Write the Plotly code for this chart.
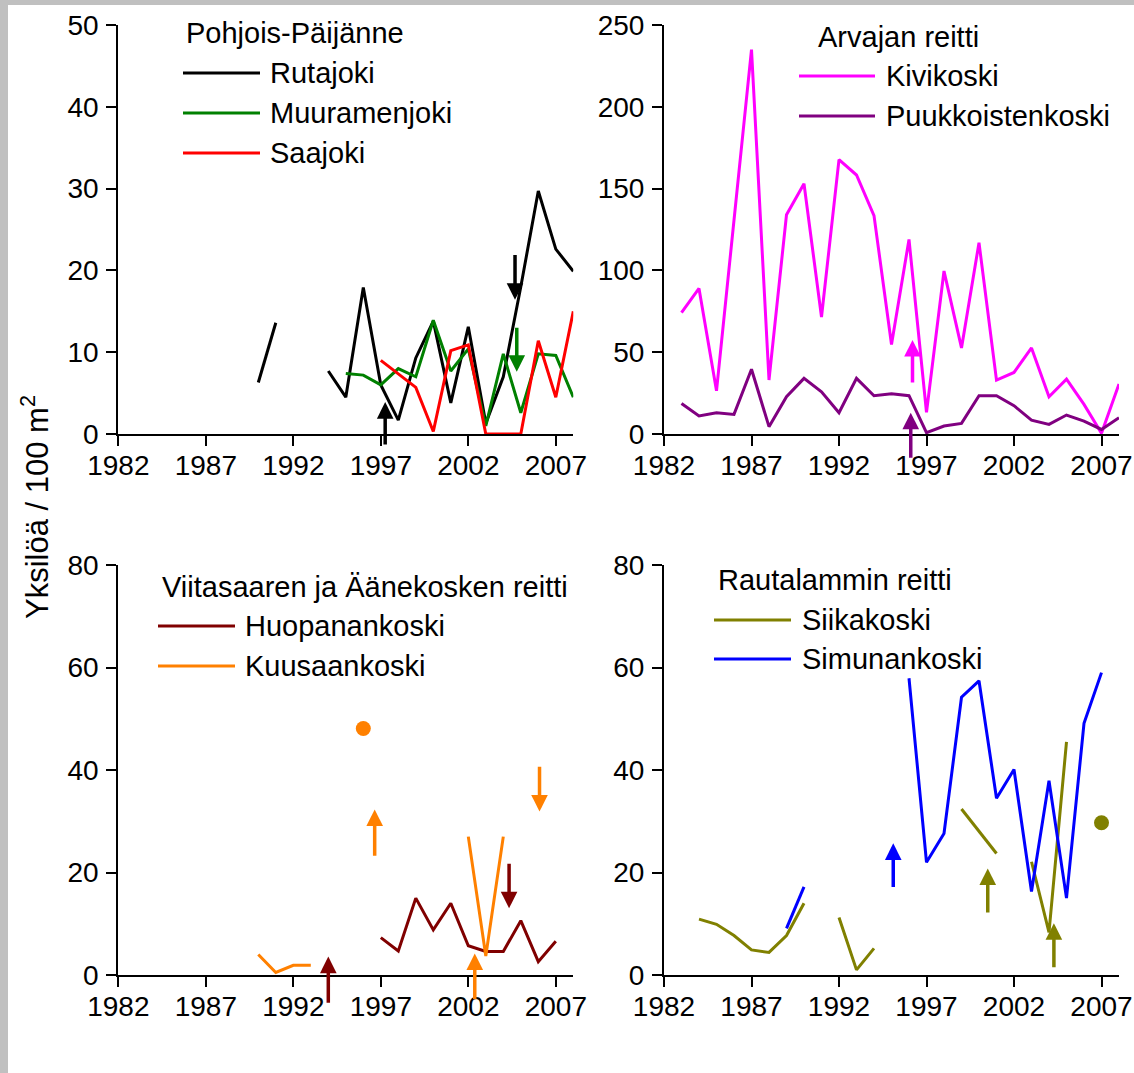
import plotly.graph_objects as go

# ---------------- data ----------------
N = None
YEARS = list(range(1982, 2009))
X_TICKS = [1982, 1987, 1992, 1997, 2002, 2007]

rutajoki = [N, N, N, N, N, N, N, N, 6.3, 13.6, N, N, 7.7, 4.5, 17.9, 6.0, 1.7, 9.3,
            13.8, 3.8, 13.1, 1.3, 7.0, 18.0, 29.7, 22.6, 19.9]
muuramenjoki = [N] * 13 + [7.4, 7.2, 6.0, 8.0, 7.0, 13.9, 7.7, 10.4, 1.0, 9.8, 2.6, 9.8, 9.6, 4.5]
saajoki = [N] * 15 + [9.0, 7.4, 5.7, 0.3, 10.2, 10.9, 0.0, 0.0, 0.0, 11.4, 4.5, 15.0]

kivikoski = [N, 74.2, 89, 26.4, 131, 235, 33, 134, 153, 71.5, 167.7, 158.3, 133.5, 54.7,
             118.9, 13.2, 99.6, 52.6, 116.9, 32.9, 37.6, 52.6, 22.8, 33.5, 18.1, 0.4, 30.5]
puukkoistenkoski = [N, 18.7, 11, 13, 12, 39.6, 4.5, 22.8, 34, 25.8, 13, 34, 23.4, 24.6,
                    23.4, 0.8, 4.9, 6.5, 23.4, 23.4, 17.3, 8.5, 5.9, 11.6, 7.9, 2.8, 10]

huopanankoski = [N] * 15 + [7.3, 4.7, 15, 8.8, 14, 5.7, 4.6, 4.6, 10.6, 2.6, 6.6, N]
kuusaankoski = [N] * 8 + [4.0, 0.5, 1.9, 1.9, N, N, 48.1, N, N, N, N, N, 27, 3.7, 27, N, N, N, N]

siikakoski = [N, N, 10.9, 9.9, 7.7, 4.9, 4.4, 7.7, 14, N, 11.2, 1.0, 5.2, N, N, N, N,
              32.4, 28.0, 23.7, N, 22.1, 8.3, 45.5, N, 29.7, N]
simunankoski = [N] * 7 + [9.1, 17.2, N, N, N, N, N, 57.9, 22, 27.6, 54.2, 57.4, 34.5,
                          40.1, 16.3, 37.9, 15, 49.1, 59, N]

GROUP_TITLES = ["Pohjois-Päijänne", "Arvajan reitti",
                "Viitasaaren ja Äänekosken reitti", "Rautalammin reitti"]
SERIES = [
    [("Rutajoki", rutajoki, "#000000"), ("Muuramenjoki", muuramenjoki, "#008000"),
     ("Saajoki", saajoki, "#FF0000")],
    [("Kivikoski", kivikoski, "#FF00FF"), ("Puukkoistenkoski", puukkoistenkoski, "#800080")],
    [("Huopanankoski", huopanankoski, "#800000"), ("Kuusaankoski", kuusaankoski, "#FF8000")],
    [("Siikakoski", siikakoski, "#808000"), ("Simunankoski", simunankoski, "#0000FF")],
]
Y_RANGES = [(0, 50, 10), (0, 250, 50), (0, 80, 20), (0, 80, 20)]

# arrows: panel, year, from (tail), to (tip), colour
arrow_panel = [0, 0, 0, 1, 1, 2, 2, 2, 2, 2, 3, 3, 3]
arrow_year = [1997.25, 2004.67, 2004.77, 1996.2, 1996.1, 1994.0, 1996.65, 2002.37,
              2004.33, 2006.07, 1995.1, 2000.5, 2004.28]
arrow_from = [-1.6, 22.2, 13.3, 29.9, -16, -5.9, 22.8, -5.2, 22.2, 41.1, 16.7, 11.7, 1.0]
arrow_to = [3.9, 16.4, 7.6, 57.5, 13.0, 3.6, 32.3, 4.2, 13.0, 31.9, 25.7, 20.8, 10.1]
arrow_color = ["#000000", "#000000", "#008000", "#FF00FF", "#800080", "#800000", "#FF8000",
               "#FF8000", "#800000", "#FF8000", "#0000FF", "#808000", "#808000"]

# ---------------- layout geometry (page pixels) ----------------
PAGE_W, PAGE_H = 1134, 1073
OFF = 8                      # default page margin (left/top) around the plot div
W, H = PAGE_W - OFF, PAGE_H - 2 * OFF
FONT = "Liberation Sans, Arial, Helvetica, sans-serif"
PANEL_X = [(118.3, 573.3), (664, 1119), (118.3, 573.3), (664, 1119)]
PANEL_Y = [(25, 434), (25, 434), (565, 975), (565, 975)]
LEG = [  # title x, title y, line x0, line x1, text x, row ys
    (184, 33, 183, 260, 268, [73, 113, 153]),
    (816, 37, 799, 875, 884, [76, 116]),
    (160, 587, 158, 235, 243, [626, 666]),
    (716, 580, 714, 791, 800, [620, 659]),
]


def px(x):
    return (x - OFF) / W


def py(y):
    return 1 - (y - OFF) / H


fig = go.Figure()
layout = dict(width=W, height=H, margin=dict(l=0, r=0, t=0, b=0),
              paper_bgcolor="white", plot_bgcolor="white", showlegend=False,
              font=dict(family=FONT, color="black"))
shapes = []
annotations = []

for i in range(4):
    sfx = "" if i == 0 else str(i + 1)
    xa, ya = "x" + sfx, "y" + sfx
    axis_common = dict(showline=True, linecolor="black", linewidth=2, ticks="outside",
                       ticklen=10, tickwidth=2, tickcolor="black", showgrid=False,
                       zeroline=False, tickfont=dict(size=28, family=FONT, color="black"),
                       fixedrange=True, automargin=False, ticklabeloverflow="allow")
    layout["xaxis" + sfx] = dict(domain=[px(PANEL_X[i][0]), px(PANEL_X[i][1])],
                                 range=[1982, 2008], tickvals=X_TICKS, anchor=ya,
                                 ticklabelstandoff=-5, **axis_common)
    y0, y1, dt = Y_RANGES[i]
    layout["yaxis" + sfx] = dict(domain=[py(PANEL_Y[i][1]), py(PANEL_Y[i][0])],
                                 range=[y0, y1], dtick=dt, anchor=xa,
                                 ticklabelstandoff=2, **axis_common)

    tx, ty, lx0, lx1, ltx, rows = LEG[i]
    annotations.append(dict(text=GROUP_TITLES[i], xref="paper", yref="paper",
                            x=px(tx), y=py(ty), xanchor="left", yanchor="middle",
                            showarrow=False, font=dict(size=29, family=FONT, color="black")))
    for (name, vals, col), ry in zip(SERIES[i], rows):
        fig.add_trace(go.Scatter(x=YEARS, y=vals, mode="lines", xaxis=xa, yaxis=ya,
                                 line=dict(color=col, width=3), connectgaps=False,
                                 name=name, hoverinfo="x+y+name"))
        # isolated single observations drawn as dots
        iso_x, iso_y = [], []
        for k, v in enumerate(vals):
            if v is None:
                continue
            prev_v = vals[k - 1] if k > 0 else None
            next_v = vals[k + 1] if k < len(vals) - 1 else None
            if prev_v is None and next_v is None:
                iso_x.append(YEARS[k])
                iso_y.append(v)
        if iso_x:
            fig.add_trace(go.Scatter(x=iso_x, y=iso_y, mode="markers", xaxis=xa, yaxis=ya,
                                     marker=dict(color=col, size=15), name=name,
                                     cliponaxis=False))
        shapes.append(dict(type="line", xref="paper", yref="paper", x0=px(lx0), x1=px(lx1),
                           y0=py(ry), y1=py(ry), line=dict(color=col, width=3)))
        annotations.append(dict(text=name, xref="paper", yref="paper", x=px(ltx), y=py(ry),
                                xanchor="left", yanchor="middle", showarrow=False,
                                font=dict(size=29, family=FONT, color="black")))

for p, yr, a_from, a_to, col in zip(arrow_panel, arrow_year, arrow_from, arrow_to, arrow_color):
    sfx = "" if p == 0 else str(p + 1)
    annotations.append(dict(text=" ", x=yr, y=a_to, ax=yr, ay=a_from,
                            xref="x" + sfx, yref="y" + sfx, axref="x" + sfx, ayref="y" + sfx,
                            showarrow=True, arrowhead=2, arrowsize=0.95, arrowwidth=3.5,
                            arrowcolor=col, standoff=0, startstandoff=0,
                            font=dict(size=2)))

annotations.append(dict(text="Yksilöä / 100 m<sup>2</sup>", xref="paper", yref="paper",
                        x=px(35), y=py(507), xanchor="center", yanchor="middle",
                        textangle=-90, showarrow=False,
                        font=dict(size=31, family=FONT, color="black")))

layout["shapes"] = shapes
layout["annotations"] = annotations
fig.update_layout(**layout)

fig.write_html(
    "out.html",
    post_script=("document.body.style.marginRight='0px';"
                 "document.body.style.background="
                 "'linear-gradient(to right, #C0C0C0 8px, transparent 8px), "
                 "linear-gradient(to bottom, #C0C0C0 5px, #FFFFFF 5px)';"),
)
